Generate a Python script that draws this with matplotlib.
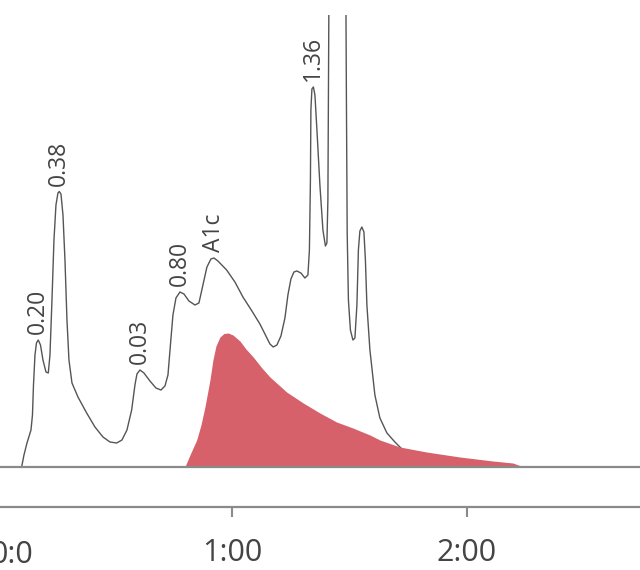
import numpy as np
import matplotlib.pyplot as plt
from matplotlib.ticker import FuncFormatter

plt.rcParams['font.family'] = ['Open Sans', 'DejaVu Sans']

# chromatogram trace: time (s), signal (a.u.)
trace_t = [6.31, 6.89, 7.66, 8.68, 9.06, 9.32, 9.70, 10.08, 10.54, 11.11, 11.74, 12.51,
           13.10, 13.53, 14.04, 14.55, 15.06, 15.57, 15.90, 16.34, 16.85, 17.36, 17.87,
           18.38, 19.15, 20.68, 22.90, 25.02, 27.06, 28.85, 30.56, 31.91, 33.19, 34.39,
           35.23, 35.74, 36.51, 37.53, 39.06, 40.59, 41.87, 42.89, 43.66, 44.29, 44.93,
           45.70, 46.72, 47.74, 49.02, 50.55, 51.57, 52.59, 53.61, 54.63, 55.40, 56.42,
           58.64, 60.76, 62.80, 65.10, 67.14, 68.68, 69.70, 70.54, 71.48, 72.51, 73.53,
           74.29, 75.06, 75.82, 76.59, 77.61, 78.63, 79.40, 79.78, 80.04, 80.16, 80.42,
           80.80, 81.19, 81.70, 82.46, 83.23, 83.87, 84.25, 84.50, 84.63, 84.76, 86.93,
           89.10, 89.23, 89.43, 89.74, 90.25, 90.89, 91.40, 91.91, 92.29, 92.67, 93.18,
           93.70, 94.08, 94.46, 95.23, 96.50, 97.78, 99.57, 101.61, 104.16, 107.99, 113.1]
trace_v = [0, 11.7, 23.7, 36.7, 51.7, 81.7, 111.7, 123.7, 126.7, 121.7, 106.7, 94.7,
           93.7, 111.7, 166.7, 226.7, 261.7, 273.7, 275.2, 272.7, 251.7, 206.7, 146.7,
           106.7, 83.7, 69.7, 53.7, 39.7, 29.7, 24.7, 23.7, 26.7, 36.7, 56.7,
           81.7, 92.7, 96.7, 93.7, 85.7, 78.7, 76.7, 80.7, 91.7, 121.7, 151.7,
           168.7, 174.7, 172.7, 165.7, 161.7, 163.7, 181.7, 199.7, 207.7, 208.7, 205.7,
           196.7, 184.7, 169.7, 155.7, 142.7, 130.7, 122.7, 119.7, 121.7, 130.7, 148.7,
           171.7, 187.7, 194.7, 195.7, 193.7, 188.7, 191.7, 216.7, 286.7, 356.7, 377.7,
           379.7, 371.7, 336.7, 281.7, 236.7, 220.7, 223.7, 266.7, 366.7, 466.7, 766.7,
           466.7, 366.7, 233.7, 166.7, 136.7, 126.7, 128.7, 161.7, 216.7, 235.7, 239.7,
           234.7, 206.7, 161.7, 116.7, 71.7, 48.7, 33.7, 24.7, 14.7, 6.7, 0]

# A1c fraction (filled)
a1c_t = [48.0, 49.27, 50.98, 52.08, 53.10, 54.38, 55.14, 55.91, 56.93, 57.95, 59.05,
         60.25, 62.04, 63.57, 65.43, 67.65, 69.70, 73.96, 78.20, 82.46, 86.72, 90.89,
         95.23, 97.78, 102.89, 109.70, 118.20, 126.63, 131.73, 134.29]
a1c_v = [0, 11.7, 26.7, 41.7, 59.7, 86.7, 106.7, 120.7, 129.7, 133.2, 133.7,
         131.7, 125.7, 117.7, 109.7, 98.7, 89.7, 74.7, 63.7, 53.7, 44.7, 38.7,
         31.7, 26.7, 19.7, 14.7, 9.7, 5.7, 3.7, 0]

# peak labels
peak_names = ['0.20', '0.38', '0.03', '0.80', 'A1c', '1.36']
peak_t = [10.54, 15.90, 36.51, 46.72, 55.40, 80.80]
peak_v = [126.7, 275.2, 96.7, 174.7, 208.7, 379.7]

tick_secs = [60, 120]

fig = plt.figure(figsize=(6.4, 5.7), dpi=100)
ax = fig.add_axes([0, 0, 1, 555 / 570])

ax.plot(trace_t, trace_v, color='#555555', lw=1.0, zorder=2)
ax.fill_between(a1c_t, a1c_v, 0, color='#d6616b', lw=0, zorder=3)
ax.axhline(0, color='#8a8a8a', lw=1.6, zorder=4)

for name, t, v in zip(peak_names, peak_t, peak_v):
    ax.text(t, v + 6, name, rotation=90, ha='center', va='bottom',
            fontsize=16.5, color='#444444')

ax.set_xlim(0.77, 164.2)
ax.set_ylim(-103.3, 451.7)

for s in ['top', 'right', 'left']:
    ax.spines[s].set_visible(False)
ax.spines['bottom'].set_position(('data', -40))
ax.spines['bottom'].set_color('#8a8a8a')
ax.spines['bottom'].set_linewidth(1.6)
ax.set_yticks([])
ax.set_xticks(tick_secs)
ax.xaxis.set_major_formatter(FuncFormatter(lambda s, p: f"{int(s // 60)}:{int(s % 60):02d}"))
ax.tick_params(axis='x', direction='out', length=7, width=1.5, color='#8a8a8a',
               labelsize=22, labelcolor='#444444', pad=15.5)
# first label, cut at the left edge
ax.text(9.19, -96.3, '0:0', ha='right', va='baseline', fontsize=22, color='#444444',
        clip_on=False)

fig.savefig('out.png', dpi=100)
